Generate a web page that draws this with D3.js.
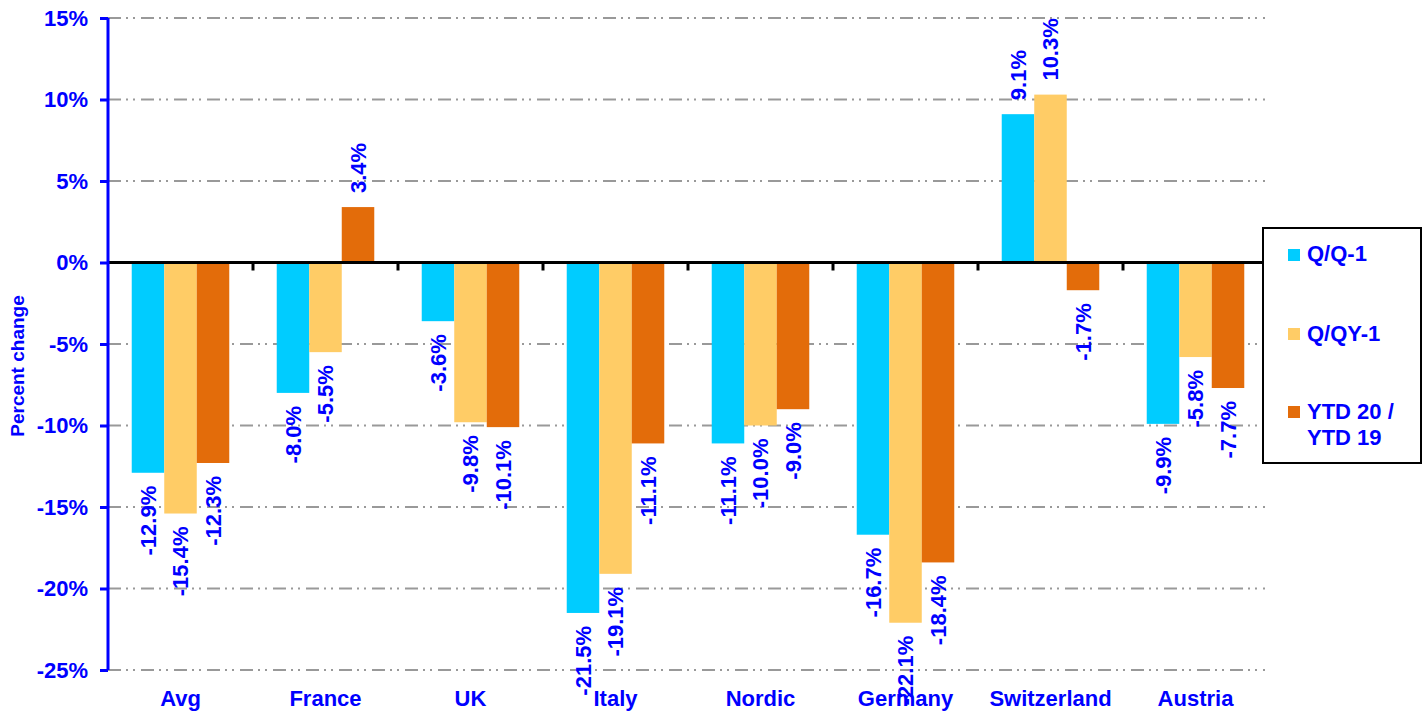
<!DOCTYPE html>
<html>
<head>
<meta charset="utf-8">
<script src="https://cdn.jsdelivr.net/npm/d3@7"></script>
<style>
  body { margin: 0; background: #fff; }
  svg text { font-family: "Liberation Sans", Arial, sans-serif; font-weight: bold; fill: #0000ff; }
</style>
</head>
<body>
<svg id="chart" width="1423" height="716"></svg>
<script>
const categories = ["Avg", "France", "UK", "Italy", "Nordic", "Germany", "Switzerland", "Austria"];
const seriesNames = ["Q/Q-1", "Q/QY-1", "YTD 20 / YTD 19"];
const qq = [-12.9, -8.0, -3.6, -21.5, -11.1, -16.7, 9.1, -9.9];
const qqy = [-15.4, -5.5, -9.8, -19.1, -10.0, -22.1, 10.3, -5.8];
const ytd = [-12.3, 3.4, -10.1, -11.1, -9.0, -18.4, -1.7, -7.7];
const yTicks = [15, 10, 5, 0, -5, -10, -15, -20, -25];
const colors = ["#00ccff", "#ffcc66", "#e36c0a"];

const svg = d3.select("#chart");
const plotL = 108, plotR = 1268, plotT = 18, plotB = 670;

const y = d3.scaleLinear().domain([-25, 15]).range([plotB, plotT]);
const x0 = d3.scaleBand().domain(categories).range([plotL, plotR]).padding(0);
const x1 = d3.scaleBand().domain(seriesNames).range([0, x0.bandwidth()])
  .paddingInner(0).paddingOuter(0.73);

const values = [qq, qqy, ytd];
const rows = [];
categories.forEach((c, i) => {
  seriesNames.forEach((s, j) => rows.push({ cat: c, s: s, v: values[j][i], j: j }));
});

// gridlines
svg.append("g").selectAll("line")
  .data(yTicks.filter(t => t !== 0))
  .join("line")
  .attr("x1", plotL).attr("x2", plotR - 3)
  .attr("y1", d => y(d)).attr("y2", d => y(d))
  .attr("stroke", "#999").attr("stroke-width", 2)
  .attr("stroke-dasharray", "13,5,2,5,2,6");

// bars
svg.append("g").selectAll("rect")
  .data(rows)
  .join("rect")
  .attr("x", d => x0(d.cat) + x1(d.s))
  .attr("width", x1.bandwidth())
  .attr("y", d => y(Math.max(0, d.v)))
  .attr("height", d => Math.abs(y(d.v) - y(0)))
  .attr("fill", d => colors[d.j]);

// value labels
svg.append("g").selectAll("text")
  .data(rows)
  .join("text")
  .attr("transform", d => {
    const cx = x0(d.cat) + x1(d.s) + x1.bandwidth() / 2;
    const yy = d.v < 0 ? y(d.v) + 13 : y(d.v) - 14;
    return `translate(${cx},${yy}) rotate(-90)`;
  })
  .attr("text-anchor", d => d.v < 0 ? "end" : "start")
  .attr("dy", "0.36em")
  .style("font-size", "22px")
  .text(d => d.v.toFixed(1) + "%");

// zero line + category ticks
svg.append("line")
  .attr("x1", plotL).attr("x2", plotR)
  .attr("y1", y(0)).attr("y2", y(0))
  .attr("stroke", "#000").attr("stroke-width", 3);
svg.append("g").selectAll("line")
  .data(categories.slice(1))
  .join("line")
  .attr("x1", d => x0(d)).attr("x2", d => x0(d))
  .attr("y1", y(0)).attr("y2", y(0) + 8)
  .attr("stroke", "#000").attr("stroke-width", 3);

// category labels
svg.append("g").selectAll("text")
  .data(categories)
  .join("text")
  .attr("x", d => x0(d) + x0.bandwidth() / 2)
  .attr("y", 706)
  .attr("text-anchor", "middle")
  .style("font-size", "22px")
  .text(d => d);

// y axis
const yAxis = d3.axisLeft(y).tickValues(yTicks).tickSize(8).tickFormat(d => d + "%");
const ya = svg.append("g").attr("transform", `translate(${plotL},0)`).call(yAxis);
ya.select(".domain").attr("stroke", "#0000ff").attr("stroke-width", 3)
  .attr("d", `M0,${plotT}V${plotB}`);
ya.selectAll(".tick line").attr("stroke", "#0000ff").attr("stroke-width", 3);
ya.selectAll(".tick text")
  .attr("x", -20)
  .attr("fill", "#0000ff")
  .style("font-family", "\"Liberation Sans\", Arial, sans-serif")
  .style("font-weight", "bold")
  .style("font-size", "22px");

svg.append("text")
  .attr("transform", "translate(24,366) rotate(-90)")
  .attr("text-anchor", "middle")
  .style("font-size", "19px")
  .text("Percent change");

// legend
const lg = svg.append("g");
lg.append("rect")
  .attr("x", 1263).attr("y", 228).attr("width", 158).attr("height", 235)
  .attr("fill", "#fff").attr("stroke", "#000").attr("stroke-width", 2);
const swatchTop = [249, 328, 406];
const textBase = [261, 341, 419];
seriesNames.forEach((s, i) => {
  lg.append("rect")
    .attr("x", 1288).attr("y", swatchTop[i]).attr("width", 12).attr("height", 12)
    .attr("fill", colors[i]);
  const t = lg.append("text")
    .attr("x", 1307).attr("y", textBase[i])
    .style("font-size", "22px");
  if (i === 2) {
    t.append("tspan").attr("x", 1307).text("YTD 20 /");
    t.append("tspan").attr("x", 1307).attr("dy", 26).text("YTD 19");
  } else {
    t.text(s);
  }
});
</script>
</body>
</html>
